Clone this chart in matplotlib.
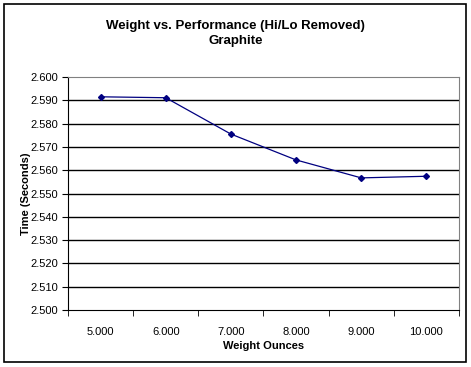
import matplotlib
matplotlib.use('Agg')
import matplotlib.pyplot as plt
from matplotlib.patches import Rectangle

weights = ['5.000', '6.000', '7.000', '8.000', '9.000', '10.000']
times = [2.5915, 2.5911, 2.5755, 2.5644, 2.5567, 2.5574]
y_ticks = [2.500, 2.510, 2.520, 2.530, 2.540, 2.550, 2.560, 2.570, 2.580, 2.590, 2.600]

plt.rcParams['font.family'] = ['Liberation Sans', 'DejaVu Sans']

fig = plt.figure(figsize=(4.71, 3.67), dpi=100)
ax = fig.add_axes([68 / 471, 1 - 310 / 367, (459 - 68) / 471, (310 - 77) / 367])

x = list(range(len(weights)))
ax.plot(x, times, color='#000080', linewidth=0.9, marker='D', markersize=3)

ax.set_xlim(-0.5, len(weights) - 0.5)
ax.set_ylim(2.500, 2.600)
ax.set_yticks(y_ticks)
ax.set_yticklabels(['%.3f' % v for v in y_ticks], fontsize=8)
ax.set_xticks(x)
ax.set_xticklabels(weights, fontsize=8)
ax.set_xticks([i - 0.5 for i in range(len(weights) + 1)], minor=True)
ax.tick_params(axis='x', which='major', length=0, pad=12)
ax.tick_params(axis='x', which='minor', length=4, direction='out', color='black')
ax.tick_params(axis='y', length=4, direction='out', pad=3)

for v in y_ticks[1:-1]:
    ax.axhline(v, color='black', linewidth=1, zorder=0)

ax.spines['top'].set_color('#808080')
ax.spines['right'].set_color('#808080')
ax.spines['left'].set_color('black')
ax.spines['bottom'].set_color('black')

ax.set_xlabel('Weight Ounces', fontsize=8, fontweight='bold', labelpad=3)
ax.set_ylabel('Time (Seconds)', fontsize=8, fontweight='bold', labelpad=0)

fig.text(0.5, 1 - 33.5 / 367, 'Weight vs. Performance (Hi/Lo Removed)\nGraphite',
         ha='center', va='center', fontsize=9.5, fontweight='bold', linespacing=1.3)

fig.patches.append(Rectangle((4 / 471, 1 - 362 / 367), 462 / 471, 358 / 367,
                             transform=fig.transFigure, fill=False,
                             edgecolor='black', linewidth=1.2))

fig.savefig('out.png', dpi=100)
